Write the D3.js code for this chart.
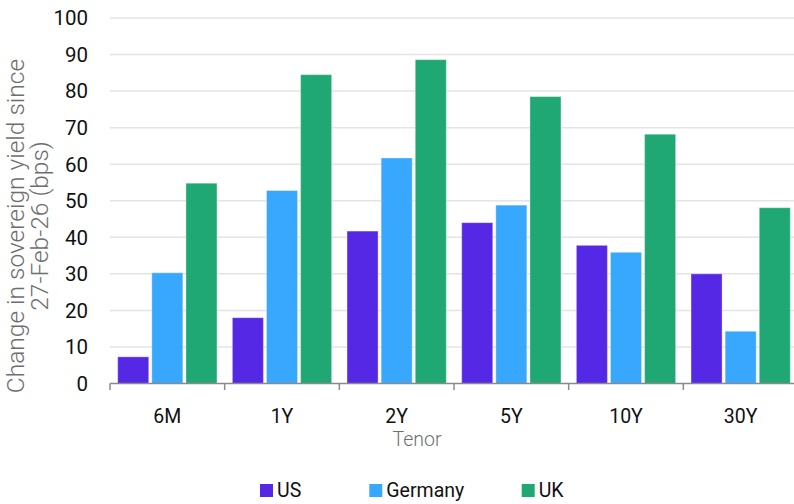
<!DOCTYPE html>
<html>
<head>
<meta charset="utf-8">
<script src="https://cdn.jsdelivr.net/npm/d3@7"></script>
<style>
  html, body { margin: 0; padding: 0; background: #fff; }
  svg { display: block; }
  text { font-family: "Roboto", sans-serif; }
</style>
</head>
<body>
<svg id="chart" width="794" height="504"></svg>
<script>
const tenors = ["6M", "1Y", "2Y", "5Y", "10Y", "30Y"];
const seriesNames = ["US", "Germany", "UK"];
const usValues = [7.3, 18.0, 41.7, 44.0, 37.8, 30.0];
const germanyValues = [30.3, 52.8, 61.7, 48.8, 35.9, 14.3];
const ukValues = [54.8, 84.5, 88.6, 78.5, 68.2, 48.1];
const yTicks = [0, 10, 20, 30, 40, 50, 60, 70, 80, 90, 100];
const colors = ["#5428E5", "#38A8FF", "#20A874"];

const seriesValues = [usValues, germanyValues, ukValues];
const data = tenors.map((t, i) => ({
  tenor: t,
  values: seriesNames.map((s, j) => ({ series: s, value: seriesValues[j][i], idx: j }))
}));

const svg = d3.select("#chart");
const plotLeft = 110, plotRight = 798, visRight = 794;
const y0 = 383.5, y100 = 18;

const x0 = d3.scaleBand().domain(tenors).range([plotLeft, plotRight]).paddingInner(0).paddingOuter(0);
const groupPad = 7.7;
const x1 = d3.scaleBand().domain(seriesNames)
  .range([groupPad, x0.bandwidth() - groupPad]).paddingInner(0.09).paddingOuter(0);
const y = d3.scaleLinear().domain([0, 100]).range([y0, y100]);
const color = d3.scaleOrdinal().domain(seriesNames).range(colors);

// gridlines
svg.append("g").selectAll("line")
  .data(yTicks.filter(d => d > 0))
  .join("line")
  .attr("x1", plotLeft).attr("x2", visRight)
  .attr("y1", d => y(d)).attr("y2", d => y(d))
  .attr("stroke", "#e4e4e4").attr("stroke-width", 1.5);

// y tick labels
svg.append("g").selectAll("text")
  .data(yTicks)
  .join("text")
  .attr("x", 88).attr("y", d => y(d))
  .attr("dy", "0.36em")
  .attr("text-anchor", "end")
  .attr("font-size", 20.5)
  .attr("fill", "#111")
  .text(d => d);

// bars
const groups = svg.append("g").selectAll("g")
  .data(data)
  .join("g")
  .attr("transform", d => `translate(${x0(d.tenor)},0)`);

groups.selectAll("rect")
  .data(d => d.values)
  .join("rect")
  .attr("x", d => x1(d.series))
  .attr("y", d => y(d.value))
  .attr("width", x1.bandwidth())
  .attr("height", d => y(0) - y(d.value))
  .attr("fill", d => color(d.series))
  .attr("stroke", "#ffffff").attr("stroke-opacity", 0.35).attr("stroke-width", 1);

// x axis line and ticks
svg.append("line")
  .attr("x1", plotLeft).attr("x2", visRight)
  .attr("y1", y0).attr("y2", y0)
  .attr("stroke", "#8a8a8a").attr("stroke-width", 1.5);

const boundaries = tenors.map(t => x0(t));
svg.append("g").selectAll("line")
  .data(boundaries)
  .join("line")
  .attr("x1", d => d).attr("x2", d => d)
  .attr("y1", y0).attr("y2", y0 + 6.5)
  .attr("stroke", "#8a8a8a").attr("stroke-width", 1.5);

// x tick labels
svg.append("g").selectAll("text")
  .data(tenors)
  .join("text")
  .attr("x", d => x0(d) + x0.bandwidth() / 2)
  .attr("y", 423)
  .attr("text-anchor", "middle")
  .attr("font-size", 19.5)
  .attr("fill", "#111")
  .text(d => d);

// x axis title
svg.append("text")
  .attr("x", 417).attr("y", 446)
  .attr("text-anchor", "middle")
  .attr("font-size", 19.5)
  .attr("font-weight", 300)
  .attr("fill", "#6e6e6e")
  .text("Tenor");

// y axis title
const yTitle = svg.append("text")
  .attr("transform", "translate(0,226) rotate(-90)")
  .attr("text-anchor", "middle")
  .attr("font-size", 24.5)
  .attr("font-weight", 300)
  .attr("fill", "#6e6e6e");
yTitle.append("tspan").attr("x", 0).attr("y", 24).text("Change in sovereign yield since");
yTitle.append("tspan").attr("x", 0).attr("y", 48).text("27-Feb-26 (bps)");

// legend
const legendX = [260, 369.3, 521.7];
const legend = svg.append("g").selectAll("g")
  .data(seriesNames)
  .join("g")
  .attr("transform", (d, i) => `translate(${legendX[i]},484)`);
legend.append("rect")
  .attr("width", 13).attr("height", 13)
  .attr("fill", d => color(d));
legend.append("text")
  .attr("x", 17).attr("y", 12.7)
  .attr("font-size", 19.5)
  .attr("fill", "#111")
  .text(d => d);
</script>
</body>
</html>
